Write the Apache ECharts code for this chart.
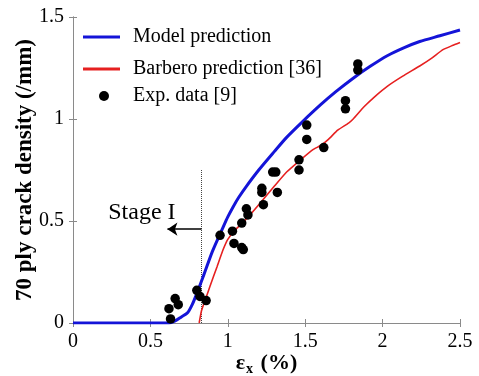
<!DOCTYPE html>
<html>
<head>
<meta charset="utf-8">
<script src="https://cdn.jsdelivr.net/npm/echarts@6/dist/echarts.min.js"></script>
<style>
  html, body { margin: 0; padding: 0; background: #fff; }
  #chart { width: 479px; height: 376px; }
</style>
</head>
<body>
<div id="chart"></div>
<script>
// Model prediction curve: strain (%) vs crack density (/mm)
const modelStrain  = [0, 0.62, 0.66, 0.70, 0.74, 0.77, 0.80, 0.84, 0.90, 0.97, 1.00, 1.035, 1.07, 1.12, 1.20, 1.30, 1.38, 1.48, 1.60, 1.70, 1.81, 1.92, 2.03, 2.14, 2.24, 2.37, 2.50];
const modelDensity = [0, 0, 0.01, 0.03, 0.05, 0.09, 0.145, 0.225, 0.35, 0.47, 0.52, 0.57, 0.615, 0.67, 0.75, 0.84, 0.91, 0.985, 1.07, 1.135, 1.20, 1.258, 1.31, 1.35, 1.38, 1.408, 1.436];

// Barbero prediction [36]
const barberoStrain  = [0.815, 0.83, 0.855, 0.885, 0.93, 0.97, 1.00, 1.04, 1.08, 1.12, 1.20, 1.30, 1.38, 1.47, 1.55, 1.60, 1.65, 1.71, 1.78, 1.81, 1.88, 1.95, 2.03, 2.13, 2.24, 2.32, 2.39, 2.45, 2.50];
const barberoDensity = [0, 0.06, 0.115, 0.18, 0.275, 0.36, 0.41, 0.45, 0.48, 0.51, 0.58, 0.67, 0.74, 0.80, 0.85, 0.87, 0.90, 0.945, 0.98, 1.00, 1.06, 1.11, 1.16, 1.21, 1.26, 1.30, 1.34, 1.36, 1.375];

// Experimental data [9]
const expStrain  = [0.63, 0.62, 0.66, 0.68, 0.80, 0.82, 0.86, 0.95, 1.03, 1.04, 1.09, 1.10, 1.09, 1.12, 1.13, 1.22, 1.22, 1.23, 1.29, 1.31, 1.32, 1.46, 1.46, 1.51, 1.51, 1.62, 1.76, 1.76, 1.84, 1.84];
const expDensity = [0.02, 0.07, 0.12, 0.09, 0.16, 0.13, 0.11, 0.43, 0.45, 0.39, 0.37, 0.36, 0.49, 0.56, 0.53, 0.66, 0.64, 0.58, 0.74, 0.74, 0.64, 0.80, 0.75, 0.97, 0.90, 0.86, 1.09, 1.05, 1.27, 1.24];

// Stage I boundary and annotation
const stageStrain = 0.83;
const stageLineTop = 0.75;
const stageArrowY = 0.46;
const stageArrowEnd = 0.61;
const stageLabel = [0.445, 0.54];

const xTicks = ['0', '0.5', '1', '1.5', '2', '2.5'];
const yTicks = ['0', '0.5', '1', '1.5'];

const zip = (a, b) => a.map((v, i) => [v, b[i]]);
const serif = 'Liberation Serif';

const chart = echarts.init(document.getElementById('chart'), null, { renderer: 'canvas' });

const frameColor = '#8a8a8a';
const baseX = {
  type: 'value', min: 0, max: 2.5, interval: 0.5,
  axisLine: { show: true, lineStyle: { color: frameColor, width: 1 } },
  axisTick: { show: true, inside: true, length: 4, lineStyle: { color: frameColor } },
  splitLine: { show: false }
};
const baseY = {
  type: 'value', min: 0, max: 1.5, interval: 0.5,
  axisLine: { show: true, lineStyle: { color: frameColor, width: 1 } },
  axisTick: { show: true, inside: true, length: 4, lineStyle: { color: frameColor } },
  splitLine: { show: false }
};

const legendText = { fontFamily: serif, fontSize: 20, color: '#000' };

chart.setOption({
  animation: false,
  backgroundColor: '#fff',
  grid: { left: 73, right: 19, top: 17, bottom: 53, containLabel: false, outerBoundsMode: 'none' },
  xAxis: [
    Object.assign({}, baseX, {
      position: 'bottom',
      axisLabel: {
        margin: 9, color: '#000', fontFamily: serif, fontSize: 20,
        formatter: v => xTicks[Math.round(v / 0.5)]
      },
      name: '{e|ε}{s|x}{e| (%)}',
      nameLocation: 'middle',
      nameGap: 27,
      nameMoveOverlap: false,
      nameTextStyle: {
        rich: {
          e: { fontFamily: serif, fontSize: 22, fontWeight: 'bold', color: '#000' },
          s: { fontFamily: serif, fontSize: 14, fontWeight: 'bold', color: '#000', verticalAlign: 'bottom', padding: [12, 2, 0, 1] }
        }
      }
    }),
    Object.assign({}, baseX, { position: 'top', axisLabel: { show: false } })
  ],
  yAxis: [
    Object.assign({}, baseY, {
      position: 'left',
      axisLabel: {
        margin: 9, color: '#000', fontFamily: serif, fontSize: 20,
        formatter: v => yTicks[Math.round(v / 0.5)]
      },
      name: '70 ply crack density (/mm)',
      nameLocation: 'middle',
      nameRotate: 90,
      nameGap: 36,
      nameMoveOverlap: false,
      nameTextStyle: { fontFamily: serif, fontSize: 23, fontWeight: 'bold', color: '#000' }
    }),
    Object.assign({}, baseY, { position: 'right', axisLabel: { show: false } })
  ],
  legend: [
    {
      orient: 'vertical', left: 83, top: 27, padding: 0,
      itemWidth: 37, itemHeight: 3, itemGap: 12,
      textStyle: Object.assign({ padding: [0, 0, 0, 8] }, legendText),
      data: [
        { name: 'Model prediction', icon: 'rect' },
        { name: 'Barbero prediction [36]', icon: 'rect' }
      ]
    },
    {
      orient: 'vertical', left: 99, top: 86, padding: 0,
      itemWidth: 30, itemHeight: 10,
      textStyle: Object.assign({ padding: [0, 0, 0, 9] }, legendText),
      data: [{ name: 'Exp. data [9]', icon: 'circle' }]
    }
  ],
  series: [
    {
      name: 'Model prediction', type: 'line',
      data: zip(modelStrain, modelDensity),
      smooth: 0.25, showSymbol: false, symbol: 'none',
      lineStyle: { color: '#1414d8', width: 3 }, itemStyle: { color: '#1414d8' },
      z: 3
    },
    {
      name: 'Barbero prediction [36]', type: 'line',
      data: zip(barberoStrain, barberoDensity),
      smooth: 0.15, showSymbol: false, symbol: 'none',
      lineStyle: { color: '#e62020', width: 1.6 }, itemStyle: { color: '#e62020' },
      z: 3
    },
    {
      name: 'Exp. data [9]', type: 'scatter',
      data: zip(expStrain, expDensity),
      symbol: 'circle', symbolSize: 9.5,
      itemStyle: { color: '#000', opacity: 1 },
      z: 4
    },
    {
      name: 'stage-boundary', type: 'lines', coordinateSystem: 'cartesian2d',
      silent: true, z: 2,
      data: [{ coords: [[stageStrain, 0], [stageStrain, stageLineTop]] }],
      lineStyle: { color: '#444', width: 1, type: 'dotted', opacity: 1 }
    },
    {
      name: 'stage-arrow', type: 'lines', coordinateSystem: 'cartesian2d',
      silent: true, z: 2,
      symbol: ['none', 'arrow'], symbolSize: 10,
      data: [{ coords: [[stageStrain, stageArrowY], [stageArrowEnd, stageArrowY]] }],
      lineStyle: { color: '#000', width: 1.6, type: 'solid', opacity: 1 }
    },
    {
      name: 'stage-label', type: 'scatter', silent: true,
      data: [stageLabel], symbolSize: 0,
      itemStyle: { opacity: 1 },
      label: {
        show: true, position: 'inside', formatter: 'Stage I',
        fontFamily: serif, fontSize: 24, color: '#000'
      }
    }
  ]
});
</script>
</body>
</html>
